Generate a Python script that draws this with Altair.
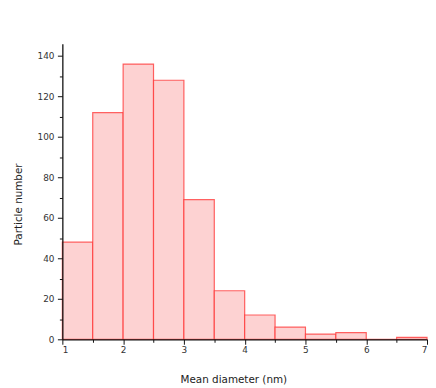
import altair as alt
import pandas as pd

bin_start = [1.0, 1.5, 2.0, 2.5, 3.0, 3.5, 4.0, 4.5, 5.0, 5.5, 6.0, 6.5]
bin_end = [1.5, 2.0, 2.5, 3.0, 3.5, 4.0, 4.5, 5.0, 5.5, 6.0, 6.5, 7.0]
counts = [48, 112, 136, 128, 69, 24, 12, 6, 2.6, 3.3, 0, 1]

x_major = [1, 2, 3, 4, 5, 6, 7]
x_minor = [1.5, 2.5, 3.5, 4.5, 5.5, 6.5]
y_major = [0, 20, 40, 60, 80, 100, 120, 140]
y_minor = [10, 30, 50, 70, 90, 110, 130]

df = pd.DataFrame({"start": bin_start, "end": bin_end, "count": counts})

xs = alt.Scale(domain=[1, 7], nice=False, zero=False)
ys = alt.Scale(domain=[0, 146], nice=False)

font = "DejaVu Sans"

bars = alt.Chart(df).mark_rect(
    fill="#fdd2d2", stroke="#ff3030", strokeWidth=1.2, strokeOpacity=0.75
).encode(
    x=alt.X("start:Q", scale=xs, axis=alt.Axis(
        values=x_major, orient="bottom", title="Mean diameter (nm)",
        tickSize=5, labelPadding=1, labelFontSize=9, titleFontSize=10.5,
        titleX=173, titleY=43.3, titleBaseline="alphabetic", format="d",
        domainColor="#111", tickColor="#111", domainWidth=1.3, tickWidth=1,
        labelColor="#333", titleColor="#222", labelFont=font, titleFont=font,
        titleFontWeight="normal", grid=False, zindex=1)),
    x2="end:Q",
    y=alt.Y("count:Q", scale=ys, axis=alt.Axis(
        values=y_major, orient="left", title="Particle number",
        tickSize=5, labelPadding=3.5, labelFontSize=9, titleFontSize=10.5,
        titleX=-41.5, titleY=162, titleBaseline="alphabetic", titleAngle=270,
        domainColor="#111", tickColor="#111", domainWidth=1.3, tickWidth=1,
        labelColor="#333", titleColor="#222", labelFont=font, titleFont=font,
        titleFontWeight="normal", grid=False, zindex=1)),
    y2=alt.datum(0),
)

minor = alt.Chart(df).mark_rect(opacity=0).encode(
    x=alt.X("start:Q", scale=xs, axis=alt.Axis(
        values=x_minor, orient="bottom", title=None, labels=False,
        domain=False, tickSize=3, tickColor="#111", tickWidth=1,
        grid=False, zindex=1)),
    x2="end:Q",
    y=alt.Y("count:Q", scale=ys, axis=alt.Axis(
        values=y_minor, orient="left", title=None, labels=False,
        domain=False, tickSize=3, tickColor="#111", tickWidth=1,
        grid=False, zindex=1)),
    y2=alt.datum(0),
)

chart = alt.layer(bars, minor).resolve_axis(
    x="independent", y="independent"
).properties(
    width=369, height=299,
    padding={"left": 5, "top": 34, "right": 0, "bottom": 0},
    background="white",
).configure_view(stroke=None)

chart.save("out.html", embed_options={"renderer": "svg", "actions": False})
